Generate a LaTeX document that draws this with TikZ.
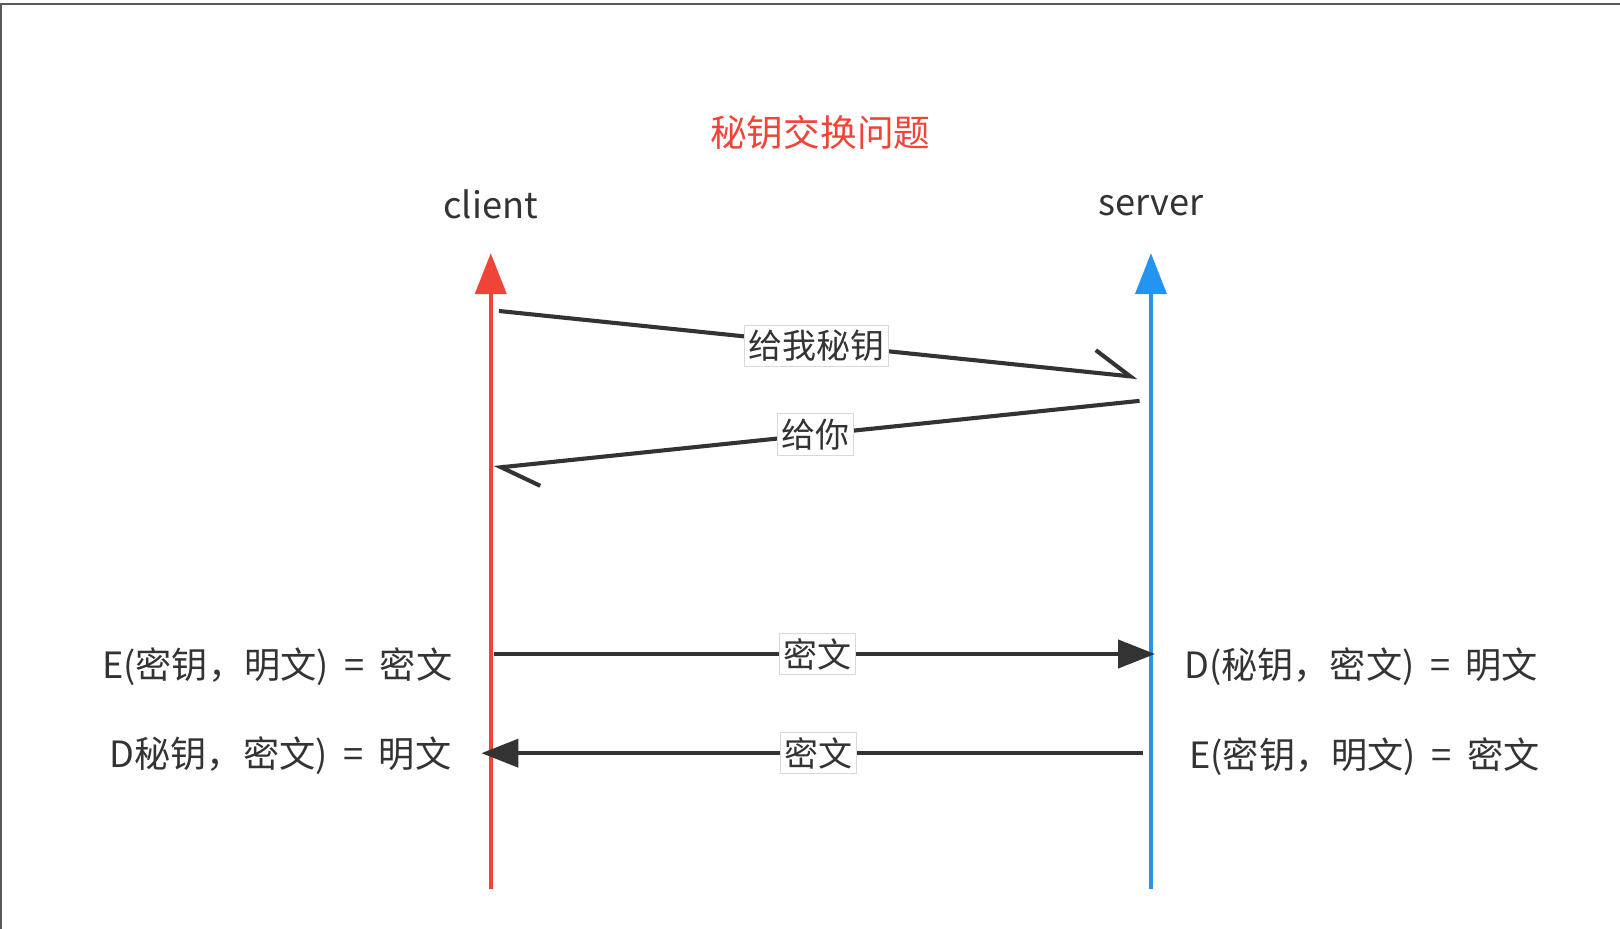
\documentclass[tikz,border=0pt]{standalone}
\usepackage{fontspec}
\setmainfont{Noto Sans CJK SC}
\usetikzlibrary{arrows.meta}
\definecolor{cred}{RGB}{240,68,56}
\definecolor{cblue}{RGB}{36,148,240}
\definecolor{ink}{RGB}{51,51,51}
\definecolor{frame}{RGB}{90,90,90}
\newcommand{\eqgap}{\hspace{15.5pt}=\hspace{15.5pt}}
\tikzset{
  txt/.style={font=\fontsize{36.2}{43}\selectfont, text=ink, inner sep=0pt},
  msg/.style={draw=ink, line width=4.1pt},
  lbl/.style={font=\fontsize{34}{41}\selectfont, text=ink, fill=white, draw=black!15, line width=1pt, inner xsep=4pt, inner ysep=5pt},
  barb/.style={-{Straight Barb[harpoon,length=37pt,width=45pt]}},
  tri/.style={-{Triangle[length=37pt,width=28pt]}},
  life/.style={line width=4.1pt, -{Triangle[length=41pt,width=31pt]}},
}
\begin{document}
\begin{tikzpicture}[x=1.0332pt,y=-1.0332pt]
\useasboundingbox (0,0) rectangle (1568,899.15);
\fill[white] (0,0) rectangle (1568,899.15);
\draw[frame, line width=1.5pt] (0,4) -- (1568,4);
\draw[frame, line width=1.5pt] (1,4) -- (1,899.15);

% title and participants
\node[font=\fontsize{36.7}{44}\selectfont, text=cred, inner sep=0pt] (title) at (794,128) {秘钥交换问题};
\node[txt] (client) at (475,198) {client};
\node[txt] (server) at (1114,199) {server};

% lifelines
\coordinate (cbot) at (475,860);
\coordinate (ctop) at (475,245);
\coordinate (sbot) at (1114,860);
\coordinate (stop) at (1114,245);
\draw[draw=cred, life] (cbot) -- (ctop);
\draw[draw=cblue, life] (sbot) -- (stop);

% messages
\coordinate (m1s) at (483,301);
\coordinate (m1e) at (1101,365);
\coordinate (m2s) at (1103,388);
\coordinate (m2e) at (478,453);
\coordinate (m3s) at (478,633);
\coordinate (m3e) at (1118,633);
\coordinate (m4s) at (1106,729);
\coordinate (m4e) at (466,729);

\draw[msg, barb] (m1s) -- node[lbl, pos=0.497, yshift=-2pt] (l1) {给我秘钥} (m1e);
\draw[msg, barb] (m2s) -- node[lbl, pos=0.502] (l2) {给你} (m2e);
\draw[msg, tri] (m3s) -- node[lbl, pos=0.489] (l3) {密文} (m3e);
\draw[msg, tri] (m4s) -- node[lbl, pos=0.49] (l4) {密文} (m4e);

% side texts
\node[txt, anchor=east] (ce) at (438,645) {E(密钥，明文)\eqgap 密文};
\node[txt, anchor=east] (cd) at (437,731) {D秘钥，密文)\eqgap 明文};
\node[txt, anchor=west] (sd) at (1146,645) {D(秘钥，密文)\eqgap 明文};
\node[txt, anchor=west] (se) at (1151,732) {E(密钥，明文)\eqgap 密文};
\end{tikzpicture}
\end{document}
